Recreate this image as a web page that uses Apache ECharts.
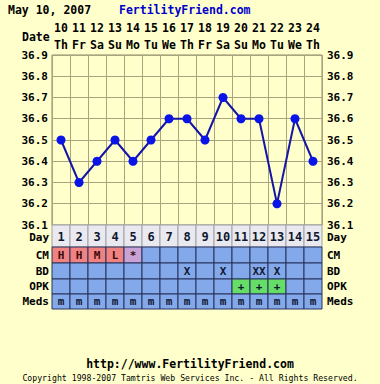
<!DOCTYPE html>
<html>
<head>
<meta charset="utf-8">
<script src="https://cdn.jsdelivr.net/npm/echarts@6/dist/echarts.min.js"></script>
<style>
html,body{margin:0;padding:0;background:#FFFFCC;}
#chart{width:380px;height:384px;}
</style>
</head>
<body>
<div id="chart"></div>
<script>
const days = ['1','2','3','4','5','6','7','8','9','10','11','12','13','14','15'];
const dates = ['10','11','12','13','14','15','16','17','18','19','20','21','22','23','24'];
const weekdays = ['Th','Fr','Sa','Su','Mo','Tu','We','Th','Fr','Sa','Su','Mo','Tu','We','Th'];
const temps = [36.5,36.3,36.4,36.5,36.4,36.5,36.6,36.6,36.5,36.7,36.6,36.6,36.2,36.6,36.4];
const tempMin = 36.1, tempMax = 36.9, tempStep = 0.1;
const rowLabels = ['Day','CM','BD','OPK','Meds'];
const cm   = ['H','H','M','L','*','','','','','','','','','',''];
const bd   = ['','','','','','','','X','','X','','XX','X','',''];
const opk  = ['','','','','','','','','','','+','+','+','',''];
const meds = ['m','m','m','m','m','m','m','m','m','m','m','m','m','m','m'];
const titleDate = 'May 10, 2007';
const siteName = 'FertilityFriend.com';
const footerUrl = 'http://www.FertilityFriend.com';
const copyright = 'Copyright 1998-2007 Tamtris Web Services Inc. - All Rights Reserved.';

const MONO = '"DejaVu Sans Mono", monospace';
const BG = '#FFFFCC';
const BLUE_CELL = '#84A9EA';
const TABLE_LINE = '#27335C';
const FS = 11;

const chart = echarts.init(document.getElementById('chart'), null, {renderer:'svg'});

const rowGeom = [
  {top:225, h:22},
  {top:247, h:16},
  {top:263, h:16},
  {top:279, h:15},
  {top:294, h:15}
];
const rowData = [days, cm, bd, opk, meds];

function cellFill(row, t) {
  if (row === 0) return '#E9E9EF';
  if (row === 1 && t && t !== '*') return '#F08282';
  if (row === 1 && t === '*') return '#C9A3D6';
  if (row === 3 && t) return '#66DD66';
  return BLUE_CELL;
}
function textFill(row) {
  if (row === 1) return '#3A0A0A';
  return '#101830';
}

const grids = [{left:52, top:55, width:270, height:170, show:true, backgroundColor:'#FFFFCC', borderColor:'#8A8866', borderWidth:1}];
const xAxes = [
  {gridIndex:0, type:'category', data:days, boundaryGap:true, show:true,
   axisLine:{show:false}, axisTick:{show:false}, axisLabel:{show:false},
   splitLine:{show:true, interval:0, lineStyle:{color:'#A8A47E', width:1}}},
  {gridIndex:0, type:'category', data:dates.map((d,i)=>d+'\n'+weekdays[i]), position:'top', boundaryGap:true,
   axisLine:{show:false}, axisTick:{show:false},
   axisLabel:{interval:0, margin:2, fontFamily:MONO, fontWeight:'bold', fontSize:11.5, color:'#000', lineHeight:17}}
];
const tempLbl = {fontFamily:MONO, fontWeight:'bold', fontSize:FS, lineHeight:11, color:'#000', formatter:v=>v.toFixed(1)};
const yAxes = [
  {gridIndex:0, type:'value', min:tempMin, max:tempMax, interval:tempStep, position:'left',
   axisLine:{show:false}, axisTick:{show:false},
   splitLine:{show:true, lineStyle:{color:'#A8A47E', width:1}},
   axisLabel:Object.assign({margin:4}, tempLbl)},
  {gridIndex:0, type:'value', min:tempMin, max:tempMax, interval:tempStep, position:'right',
   axisLine:{show:false}, axisTick:{show:false}, splitLine:{show:false},
   axisLabel:Object.assign({margin:5}, tempLbl)}
];
const series = [{
  type:'line', xAxisIndex:0, yAxisIndex:0, data:temps, symbol:'circle', symbolSize:9,
  lineStyle:{color:'#1616A6', width:2}, itemStyle:{color:'#0A14E6'}, z:5
}];

rowGeom.forEach((g, r) => {
  const gi = r + 1;
  grids.push({left:52, top:g.top, width:270, height:g.h});
  const xIdx = xAxes.length;
  xAxes.push({gridIndex:gi, type:'category', data:days, show:false});
  const lblStyle = {fontFamily:MONO, fontWeight:'bold', fontSize:FS, lineHeight:11, color:'#000', show: r !== 0};
  const yIdx = yAxes.length;
  yAxes.push({gridIndex:gi, type:'category', data:[rowLabels[r]], position:'left',
    axisLine:{show:false}, axisTick:{show:false}, splitLine:{show:false},
    axisLabel:Object.assign({margin:3}, lblStyle)});
  yAxes.push({gridIndex:gi, type:'category', data:[rowLabels[r]], position:'right',
    axisLine:{show:false}, axisTick:{show:false}, splitLine:{show:false},
    axisLabel:Object.assign({margin:5}, lblStyle)});
  const data = rowData[r].map((t, i) => [i, 0]);
  series.push({
    type:'custom', xAxisIndex:xIdx, yAxisIndex:yIdx, data:data,
    renderItem:function(params, api){
      const idx = params.dataIndex;
      const t = rowData[r][idx];
      const p = api.coord([api.value(0), api.value(1)]);
      const s = api.size([1, 1]);
      const stroke = r === 0 ? '#A0A0A8' : TABLE_LINE;
      const children = [{
        type:'rect',
        shape:{x:p[0]-s[0]/2, y:p[1]-s[1]/2, width:s[0], height:s[1]},
        style:{fill:cellFill(r, t), stroke:stroke, lineWidth:1}
      }];
      if (t) {
        children.push({
          type:'text',
          style:{text:t, x:p[0], y:p[1] + (r===0?1:0), align:'center', verticalAlign:'middle',
                 textAlign:'center', textVerticalAlign:'middle',
                 font:'bold ' + (r===0?12:11) + 'px ' + MONO, fill:textFill(r)}
        });
      }
      return {type:'group', children:children};
    }
  });
});

const tStyle = {fontFamily:MONO, fontWeight:'bold', fontSize:11.5, color:'#000'};
const rowStyle = {fontFamily:MONO, fontWeight:'bold', fontSize:FS, color:'#000'};
const option = {
  backgroundColor: BG,
  animation:false,
  title:[
    {text:titleDate, left:8, top:4, padding:0, textStyle:tStyle},
    {text:siteName, left:119, top:4, padding:0, textStyle:Object.assign({}, tStyle, {color:'#0000CC'})},
    {text:'Date', left:22, top:31, padding:0, textStyle:tStyle},
    {text:rowLabels[0], right:331, top:232, padding:0, textStyle:rowStyle},
    {text:rowLabels[0], left:327, top:232, padding:0, textStyle:rowStyle},
    {text:footerUrl, left:'center', top:358, padding:0, textStyle:tStyle},
    {text:copyright, left:'center', top:374, padding:0, textStyle:{fontFamily:MONO, fontWeight:'normal', fontSize:8.2, color:'#000'}}
  ],
  grid:grids,
  xAxis:xAxes,
  yAxis:yAxes,
  series:series
};
chart.setOption(option);
</script>
</body>
</html>
